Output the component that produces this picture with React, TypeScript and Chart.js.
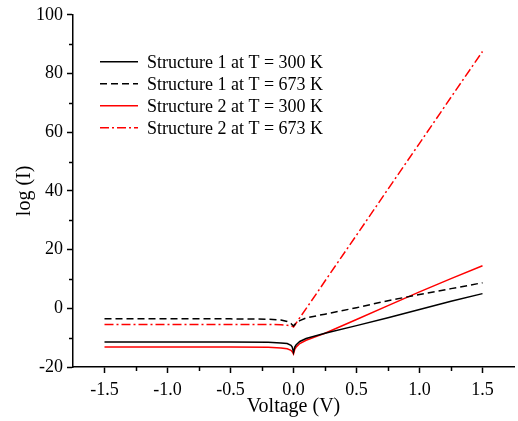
import React, { useEffect, useRef } from "react";
import { Chart, registerables } from "chart.js";

Chart.register(...registerables);

const VOLTAGE = [-1.5, -1.0, -0.5, -0.2, -0.1, -0.05, -0.02, -0.01, 0, 0.01, 0.02, 0.05, 0.1, 0.2, 0.25, 0.5, 0.75, 1.0, 1.25, 1.5];
const S1_300 = [-11.5, -11.5, -11.5, -11.6, -11.8, -12.0, -12.6, -13.2, -15.0, -13.2, -12.5, -11.3, -10.3, -9.1, -8.5, -5.9, -3.2, -0.4, 2.4, 5.0];
const S1_673 = [-3.6, -3.6, -3.6, -3.7, -4.0, -4.5, -5.2, -5.6, -6.0, -5.5, -5.0, -4.2, -3.3, -2.4, -2.0, 0.2, 2.6, 4.7, 6.7, 8.7];
const S2_300 = [-13.2, -13.2, -13.2, -13.3, -13.5, -13.8, -14.3, -14.8, -15.6, -14.0, -13.3, -12.0, -10.9, -9.3, -8.5, -3.8, 0.9, 5.6, 10.1, 14.5];
const S2_673 = [-5.5, -5.5, -5.5, -5.5, -5.6, -5.8, -6.0, -6.1, -6.4, -5.8, -5.1, -3.2, -0.1, 6.1, 9.3, 24.9, 40.6, 56.2, 71.9, 87.5];

const LABELS = ["Structure 1 at T = 300 K", "Structure 1 at T = 673 K", "Structure 2 at T = 300 K", "Structure 2 at T = 673 K"];
const X_MAJOR = [-1.5, -1.0, -0.5, 0.0, 0.5, 1.0, 1.5];
const X_MINOR = [-1.25, -0.75, -0.25, 0.25, 0.75, 1.25];
const Y_MAJOR = [-20, 0, 20, 40, 60, 80, 100];
const Y_MINOR = [-10, 10, 30, 50, 70, 90];

const FONT = '"Liberation Serif", "Times New Roman", serif';
const DASHED = [7, 4];
const DASHDOT = [9, 3, 2, 3];

const STYLES = [
  { color: "#000000", dash: [] as number[] },
  { color: "#000000", dash: DASHED },
  { color: "#ff0000", dash: [] as number[] },
  { color: "#ff0000", dash: DASHDOT },
];

const SERIES = [S1_300, S1_673, S2_300, S2_673];

const extrasPlugin = {
  id: "extras",
  afterDraw(chart: any) {
    const ctx = chart.ctx;
    const xs = chart.scales.x;
    const ys = chart.scales.y;
    const area = chart.chartArea;
    ctx.save();
    ctx.strokeStyle = "#000";
    ctx.lineWidth = 1.5;
    ctx.setLineDash([]);
    X_MINOR.forEach((v) => {
      const px = Math.round(xs.getPixelForValue(v)) + 0.5;
      ctx.beginPath();
      ctx.moveTo(px, area.bottom);
      ctx.lineTo(px, area.bottom + 4);
      ctx.stroke();
    });
    Y_MINOR.forEach((v) => {
      const py = Math.round(ys.getPixelForValue(v)) + 0.5;
      ctx.beginPath();
      ctx.moveTo(area.left, py);
      ctx.lineTo(area.left - 4, py);
      ctx.stroke();
    });
    // legend
    ctx.font = `18px ${FONT}`;
    ctx.textBaseline = "middle";
    ctx.textAlign = "left";
    LABELS.forEach((label, i) => {
      const y = area.top + 47 + i * 22;
      const st = STYLES[i];
      ctx.strokeStyle = st.color;
      ctx.lineWidth = 1.5;
      ctx.setLineDash(st.dash);
      ctx.beginPath();
      ctx.moveTo(area.left + 27, y);
      ctx.lineTo(area.left + 65, y);
      ctx.stroke();
      ctx.setLineDash([]);
      ctx.fillStyle = "#000";
      ctx.fillText(label, area.left + 74, y + 1);
    });
    ctx.restore();
  },
};

export default function App() {
  const ref = useRef<HTMLCanvasElement>(null);
  useEffect(() => {
    document.body.style.margin = "0";
    const canvas = ref.current!;
    const chart = new Chart(canvas, {
      type: "line",
      data: {
        datasets: SERIES.map((s, i) => ({
          label: LABELS[i],
          data: VOLTAGE.map((v, j) => ({ x: v, y: s[j] })),
          borderColor: STYLES[i].color,
          borderDash: STYLES[i].dash,
          borderWidth: 1.5,
          pointRadius: 0,
          tension: 0,
          fill: false,
        })),
      },
      options: {
        responsive: false,
        animation: false,
        layout: { padding: { top: 13, right: 4, left: 0, bottom: 0 } },
        plugins: { legend: { display: false }, tooltip: { enabled: false } },
        scales: {
          x: {
            type: "linear",
            min: -1.75,
            max: 1.75,
            afterBuildTicks: (scale: any) => {
              scale.ticks = X_MAJOR.map((v) => ({ value: v }));
            },
            afterFit: (scale: any) => {
              scale.height = 54;
            },
            grid: { drawOnChartArea: false, drawTicks: true, tickLength: 6, tickWidth: 1.5, tickColor: "#000" },
            border: { display: true, color: "#000", width: 1.5 },
            ticks: {
              autoSkip: false,
              maxRotation: 0,
              padding: 6,
              color: "#000",
              font: { family: FONT, size: 18 },
              callback: (v: any) => Number(v).toFixed(1),
            },
            title: {
              display: true,
              text: "Voltage (V)",
              color: "#000",
              font: { family: FONT, size: 20 },
              padding: { top: 0, bottom: 2 },
            },
          },
          y: {
            type: "linear",
            min: -20,
            max: 100,
            afterBuildTicks: (scale: any) => {
              scale.ticks = Y_MAJOR.map((v) => ({ value: v }));
            },
            afterFit: (scale: any) => {
              scale.width = 73;
            },
            grid: { drawOnChartArea: false, drawTicks: true, tickLength: 6, tickWidth: 1.5, tickColor: "#000" },
            border: { display: true, color: "#000", width: 1.5 },
            ticks: {
              autoSkip: false,
              padding: 4,
              color: "#000",
              font: { family: FONT, size: 18 },
              callback: (v: any) => String(v),
            },
            title: {
              display: true,
              text: "log (I)",
              color: "#000",
              font: { family: FONT, size: 20 },
              padding: { top: 13, bottom: 0 },
            },
          },
        },
      },
      plugins: [extrasPlugin],
    });
    return () => chart.destroy();
  }, []);
  return <canvas ref={ref} width={518} height={421} style={{ display: "block" }} />;
}
